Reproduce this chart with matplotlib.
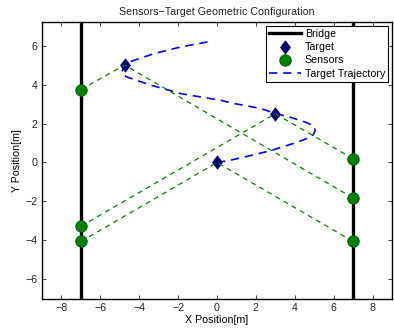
import matplotlib
matplotlib.use("Agg")
import matplotlib.pyplot as plt
from matplotlib.lines import Line2D
from matplotlib.path import Path

plt.rcParams['font.family'] = ['Liberation Sans', 'DejaVu Sans']

# Data
bridge_x = [-7, 7]
sensor_x = [-7, -7, -7, 7, 7, 7]
sensor_y = [3.74, -3.27, -4.05, 0.19, -1.82, -4.05]
target_x = [-4.75, 3.0, 0.0]
target_y = [5.0, 2.5, 0.0]
# sensor index pairs (left, right) for each target
links = [(0, 4), (1, 3), (2, 5)]
traj_x = [0.0, 0.7, 1.5, 2.8, 4.0, 4.6, 4.95, 5.05, 4.95, 4.6, 3.9, 3.0, 2.24, 0.86,
          0.19, -0.83, -1.85, -3.38, -4.65, -4.9, -4.8, -4.5, -3.22, -1.85, -0.4]
traj_y = [0.0, 0.12, 0.3, 0.62, 1.0, 1.22, 1.42, 1.65, 1.88, 2.05, 2.28, 2.52, 2.77, 3.03,
          3.19, 3.36, 3.53, 3.96, 4.39, 4.6, 4.95, 5.16, 5.59, 5.93, 6.2]

diamond = Path([(0, 1), (0.75, 0), (0, -1), (-0.75, 0), (0, 1)],
               [Path.MOVETO, Path.LINETO, Path.LINETO, Path.LINETO, Path.CLOSEPOLY])

fig = plt.figure(figsize=(3.94, 3.35), dpi=100)
ax = fig.add_axes([0.1066, 0.1075, 0.8884, 0.8265])

ylim = (-7, 7.2)
for bx in bridge_x:
    ax.plot([bx, bx], list(ylim), color='black', lw=2.4, zorder=2)

ax.plot(traj_x, traj_y, color='#0000ff', lw=1.2, dashes=(5, 3.5), zorder=3)

ax.plot(target_x, target_y, linestyle='none', marker=diamond, color='#000080',
        markersize=9.5, markeredgecolor='#000050', markeredgewidth=0.6, zorder=4)
ax.plot(sensor_x, sensor_y, linestyle='none', marker='o', color='#008000',
        markersize=8.3, markeredgecolor='#005a00', markeredgewidth=0.6, zorder=4)

for t, (li, ri) in enumerate(links):
    ax.plot([sensor_x[li], target_x[t], sensor_x[ri]],
            [sensor_y[li], target_y[t], sensor_y[ri]],
            color='#008000', lw=0.9, dashes=(4, 3.5), zorder=5)

fs = 7.7
ax.set_xlim(-9, 9)
ax.set_ylim(*ylim)
ax.set_xticks(range(-8, 9, 2))
ax.set_yticks(range(-6, 7, 2))
ax.tick_params(direction='in', length=3, width=0.6, labelsize=fs,
               top=True, right=True, pad=3, colors='#222222', labelcolor='#222222')
for s in ax.spines.values():
    s.set_linewidth(1.0)
ax.set_xlabel('X Position[m]', fontsize=fs, labelpad=1.5)
ax.set_ylabel('Y Position[m]', fontsize=fs, labelpad=3)
ax.set_title('Sensors\u2212Target Geometric Configuration', fontsize=fs, pad=5,
             color='#222222')

handles = [
    Line2D([], [], color='black', lw=2.4),
    Line2D([], [], linestyle='none', marker=diamond, color='#000080', markersize=9.5,
           markeredgecolor='#000050', markeredgewidth=0.6),
    Line2D([], [], linestyle='none', marker='o', color='#008000', markersize=8.3,
           markeredgecolor='#005a00', markeredgewidth=0.6),
    Line2D([], [], color='#0000ff', lw=1.2, dashes=(5, 3.5)),
]
leg = ax.legend(handles, ['Bridge', 'Target', 'Sensors', 'Target Trajectory'],
                loc='upper right', fontsize=fs, fancybox=False, framealpha=1,
                edgecolor='black', handlelength=3.0, handletextpad=0.35,
                labelspacing=0.3, borderpad=0.3, borderaxespad=0.35)
leg.get_frame().set_linewidth(0.8)

fig.savefig('out.png', dpi=100)
